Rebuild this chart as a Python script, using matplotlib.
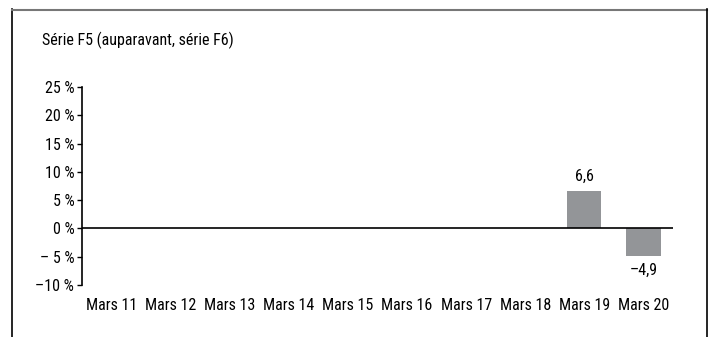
import matplotlib
matplotlib.use('agg')
import matplotlib.pyplot as plt
from matplotlib.lines import Line2D

plt.rcParams['font.family'] = ['Roboto Condensed', 'DejaVu Sans']

# data
categories = ['Mars 11', 'Mars 12', 'Mars 13', 'Mars 14', 'Mars 15',
              'Mars 16', 'Mars 17', 'Mars 18', 'Mars 19', 'Mars 20']
values = [None, None, None, None, None, None, None, None, 6.6, -4.9]
yticks = [-10, -5, 0, 5, 10, 15, 20, 25]
ytick_labels = ['\u201310 %', '\u2013 5 %', '0 %', '5 %', '10 %', '15 %', '20 %', '25 %']
title = 'Série F5 (auparavant, série F6)'

FS = 11.5
W, H = 709, 337
fig = plt.figure(figsize=(W / 100, H / 100), dpi=100)

# outer frame (no bottom edge)
fig.add_artist(Line2D([12 / W, 12 / W], [0, 1 - 9 / H], color='black', lw=1.2))
fig.add_artist(Line2D([12 / W, 707 / W], [1 - 9.5 / H, 1 - 9.5 / H], color='#777777', lw=1.5))
fig.add_artist(Line2D([707 / W, 707 / W], [0, 1 - 9 / H], color='black', lw=1.2))

fig.text(42 / W, 1 - 40 / H, title, fontsize=FS, va='center', ha='left')

ax = fig.add_axes([82 / W, 1 - 285 / H, (673 - 82) / W, (285 - 87) / H])

xs = [i for i, v in enumerate(values) if v is not None]
vs = [v for v in values if v is not None]
ax.bar(xs, vs, width=0.58, color='#939598', zorder=2)
for x, v in zip(xs, vs):
  lab = ('%.1f' % v).replace('.', ',').replace('-', '\u2013')
  if v >= 0:
    ax.text(x, v + 1.2, lab, ha='center', va='bottom', fontsize=FS)
  else:
    ax.text(x, v - 1.2, lab, ha='center', va='top', fontsize=FS)

ax.axhline(0, color='black', lw=1.2, zorder=3)
ax.set_xlim(-0.5, len(categories) - 0.5)
ax.set_ylim(-10, 25)
ax.set_yticks(yticks)
ax.set_yticklabels(ytick_labels, fontsize=FS)
ax.set_xticks(range(len(categories)))
ax.set_xticklabels(categories, fontsize=FS)
ax.tick_params(axis='x', length=0, pad=9)
ax.tick_params(axis='y', length=3.5, width=1, direction='out', pad=2)
for s in ['top', 'right', 'bottom']:
  ax.spines[s].set_visible(False)
ax.spines['left'].set_linewidth(1.2)

plt.savefig('out.png', dpi=100)
plt.close()
